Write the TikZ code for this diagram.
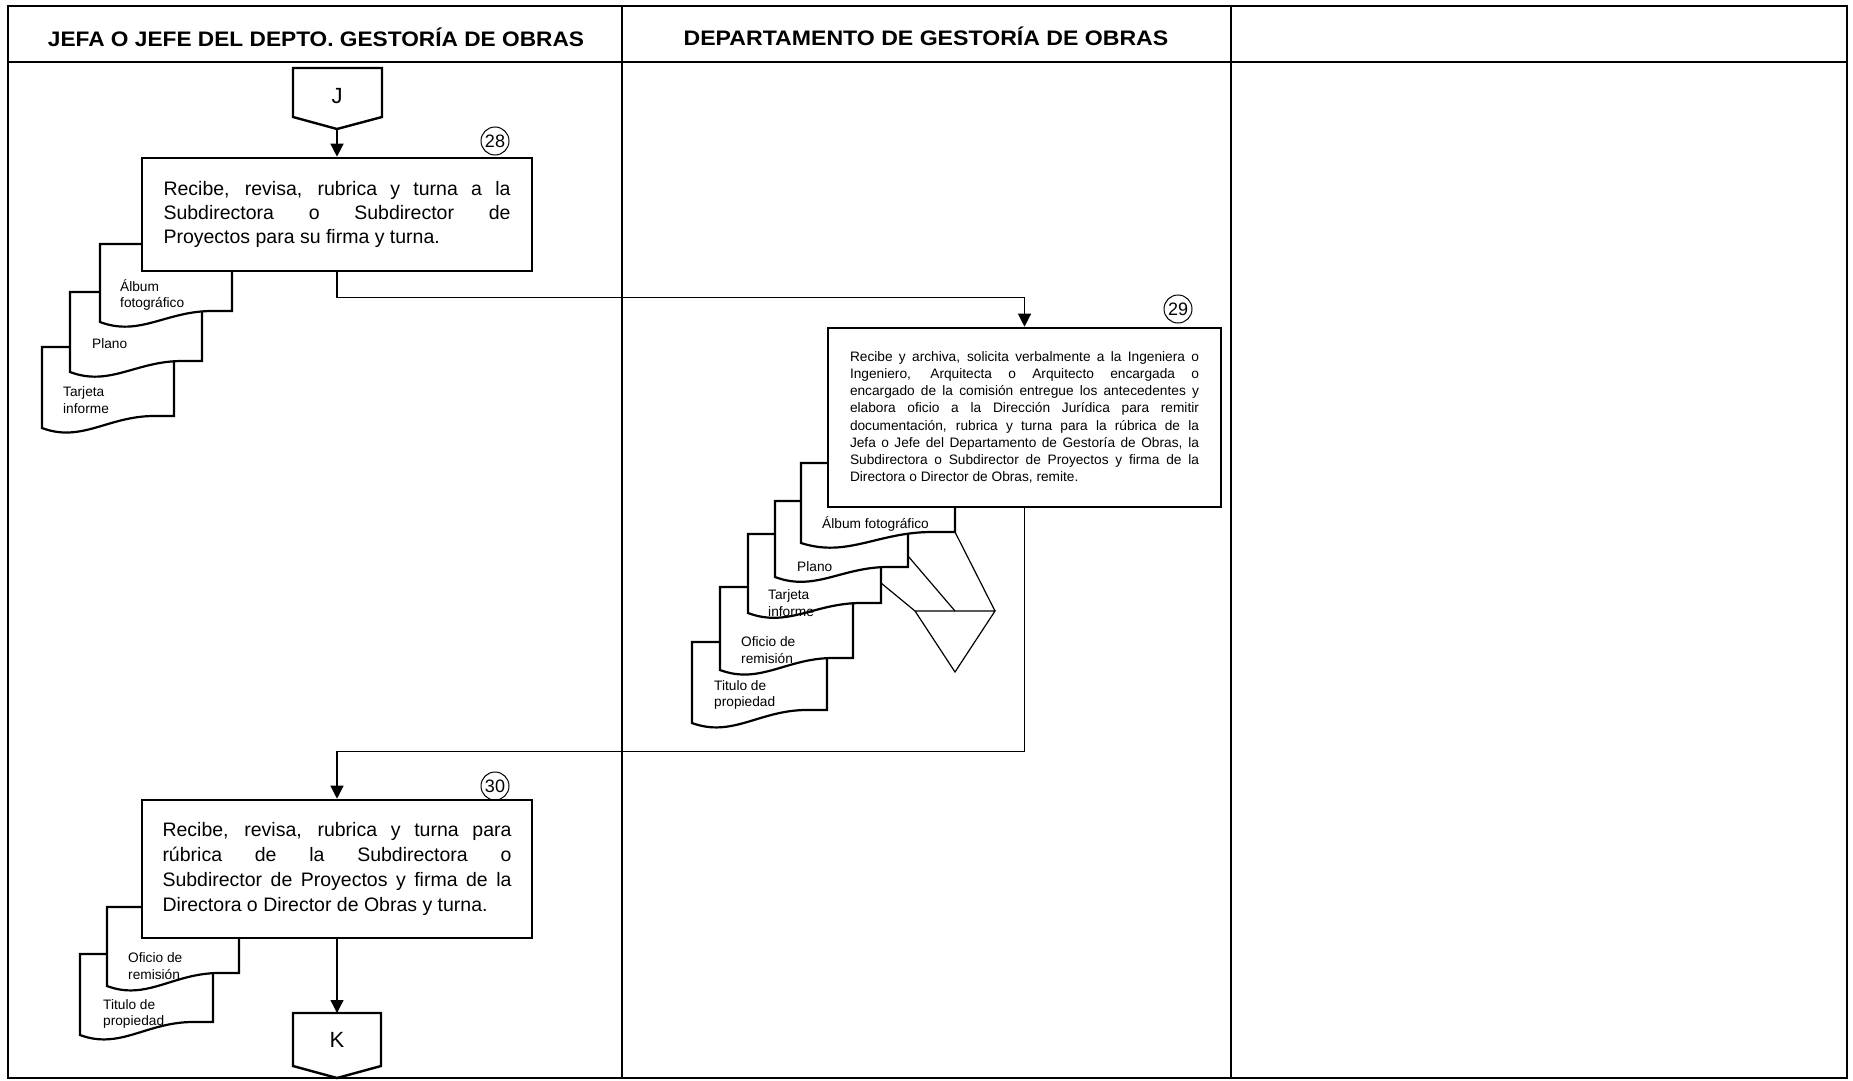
\documentclass[tikz,border=0pt]{standalone}
\usepackage{fontspec}
\usepackage{graphicx}
\setmainfont{Liberation Sans}
\usetikzlibrary{arrows.meta,calc}
\newcommand\mydoc[5]{%
  \draw[docline] (#1,#2) -- ({#1+#3},#2) -- ({#1+#3},{#2+#4}) -- ({#1+0.85*#3},{#2+#4})
    .. controls ({#1+0.5*#3},{#2+#4}) and ({#1+0.3*#3},{#2+#4+#5+15}) .. (#1,{#2+#4+#5}) -- cycle;}
\begin{document}
\begin{tikzpicture}[x=1pt,y=-1pt,
  conn/.style={line width=1.3pt},
  tip/.style={-{Triangle[length=13pt,width=13pt]}},
  box/.style={draw,line width=2.6pt,fill=white,inner sep=0pt,align=left},
  docline/.style={line width=2.2pt,fill=white,line join=miter},
  doclbl/.style={font=\fontsize{13.7}{16.5}\selectfont,align=left,anchor=west,inner sep=0pt},
  num/.style={draw,circle,line width=1pt,minimum size=28pt,inner sep=0pt,font=\fontsize{18}{18}\selectfont},
  conector/.style={line width=2.4pt,fill=white,line join=miter},
  hdr/.style={font=\fontsize{21}{21}\selectfont\bfseries},
  thinl/.style={line width=1.2pt},
  big/.style={font=\fontsize{19.5}{24}\selectfont},
  small/.style={font=\fontsize{13.7}{17.2}\selectfont}
]
\useasboundingbox (0,0) rectangle (1853,1081);
% frame and lanes
\draw[line width=2pt] (8,6) rectangle (1847,1078);
\draw[line width=2pt] (8,62) -- (1847,62);
\draw[line width=1.2pt] (622,6) -- (622,1078);
\draw[line width=1.2pt] (1231,6) -- (1231,1078);
\node[hdr] (h1) at (316,37) {\scalebox{1.08}[1]{JEFA O JEFE DEL DEPTO. GESTORÍA DE OBRAS}};
\node[hdr] (h2) at (926,36) {\scalebox{1.1}[1]{DEPARTAMENTO DE GESTORÍA DE OBRAS}};

% connector J
\draw[conector] (293,68) -- (382,68) -- (382,117) -- (337,129) -- (293,117) -- cycle;
\node[font=\fontsize{22}{22}\selectfont] (J) at (337,96) {J};
\coordinate (Jbot) at (337,129);

% docs of step 28
\mydoc{42}{347}{132}{69}{12}
\node[doclbl] (d28c) at (63,400) {Tarjeta\\informe};
\mydoc{70}{292}{132}{69}{11}
\node[doclbl] (d28b) at (92,344) {Plano};
\mydoc{100}{244}{132}{67}{11}
\node[doclbl] (d28a) at (120,295) {Álbum\\fotográfico};

% step 28
\node[box,big,minimum width=390pt,minimum height=113pt] (b28) at (337,214.5)
{\makebox[347pt][s]{Recibe, revisa, rubrica y turna a la}\\
 \makebox[347pt][s]{Subdirectora o Subdirector de}\\
 \makebox[347pt][l]{Proyectos para su firma y turna.}};
\node[num] (n28) at (495,141) {28};

% docs of step 29
\mydoc{692}{642}{135}{68}{13}
\node[doclbl] (d29e) at (714,695) {Titulo de\\propiedad};
\mydoc{720}{587}{133}{71}{12}
\node[doclbl] (d29d) at (741,650) {Oficio de\\remisión};
\mydoc{748}{534}{133}{69}{10}
\node[doclbl] (d29c) at (768,603) {Tarjeta\\informe};
\mydoc{775}{501}{133}{66}{10}
\node[doclbl] (d29b) at (797,567) {Plano};
\mydoc{801}{463}{154}{69}{11}
\node[doclbl] (d29a) at (822,524) {Álbum fotográfico};

% archive symbol
\coordinate (arL) at (915,611);
\coordinate (arR) at (995,611);
\coordinate (arB) at (955,672);
\coordinate (arM) at (955,611);
\coordinate (ca) at (955,532);
\coordinate (cb) at (908,556);
\coordinate (cc) at (881,583);
\draw[thinl,line join=miter] (arL) -- (arR) -- (arB) -- cycle;
\draw[thinl] (ca) -- (arR);
\draw[thinl] (cb) -- (arM);
\draw[thinl] (cc) -- (arL);

% step 29
\node[box,small,minimum width=393pt,minimum height=179pt] (b29) at (1024.5,417.5)
{\makebox[349pt][s]{Recibe y archiva, solicita verbalmente a la Ingeniera o}\\
 \makebox[349pt][s]{Ingeniero, Arquitecta o Arquitecto encargada o}\\
 \makebox[349pt][s]{encargado de la comisión entregue los antecedentes y}\\
 \makebox[349pt][s]{elabora oficio a la Dirección Jurídica para remitir}\\
 \makebox[349pt][s]{documentación, rubrica y turna para la rúbrica de la}\\
 \makebox[349pt][s]{Jefa o Jefe del Departamento de Gestoría de Obras, la}\\
 \makebox[349pt][s]{Subdirectora o Subdirector de Proyectos y firma de la}\\
 \makebox[349pt][l]{Directora o Director de Obras, remite.}};
\node[num] (n29) at (1178,309) {29};

% docs of step 30
\mydoc{80}{954}{133}{68}{13}
\node[doclbl] (d30b) at (103,1014) {Titulo de\\propiedad};
\mydoc{107}{907}{132}{66}{13}
\node[doclbl] (d30a) at (128,966) {Oficio de\\remisión};

% step 30
\node[box,big,font=\fontsize{19.5}{25}\selectfont,minimum width=390pt,minimum height=138pt] (b30) at (337,869)
{\makebox[349pt][s]{Recibe, revisa, rubrica y turna para}\\
 \makebox[349pt][s]{rúbrica de la Subdirectora o}\\
 \makebox[349pt][s]{Subdirector de Proyectos y firma de la}\\
 \makebox[349pt][l]{Directora o Director de Obras y turna.}};
\node[num] (n30) at (495,786) {30};

% connector K
\draw[conector] (293,1013) -- (381,1013) -- (381,1066) -- (337,1078) -- (293,1066) -- cycle;
\node[font=\fontsize{22}{22}\selectfont] (K) at (337,1040) {K};
\coordinate (Ktop) at (337,1013);

% flow lines
\draw[conn,tip] (Jbot) -- (b28.north);
\draw[conn,tip] (b28.south) -- ++(0,25) -| (b29.north);
\draw[conn,tip] (b29.south) -- ++(0,243) -| (b30.north);
\draw[conn,tip] (b30.south) -- (Ktop);
\end{tikzpicture}
\end{document}
